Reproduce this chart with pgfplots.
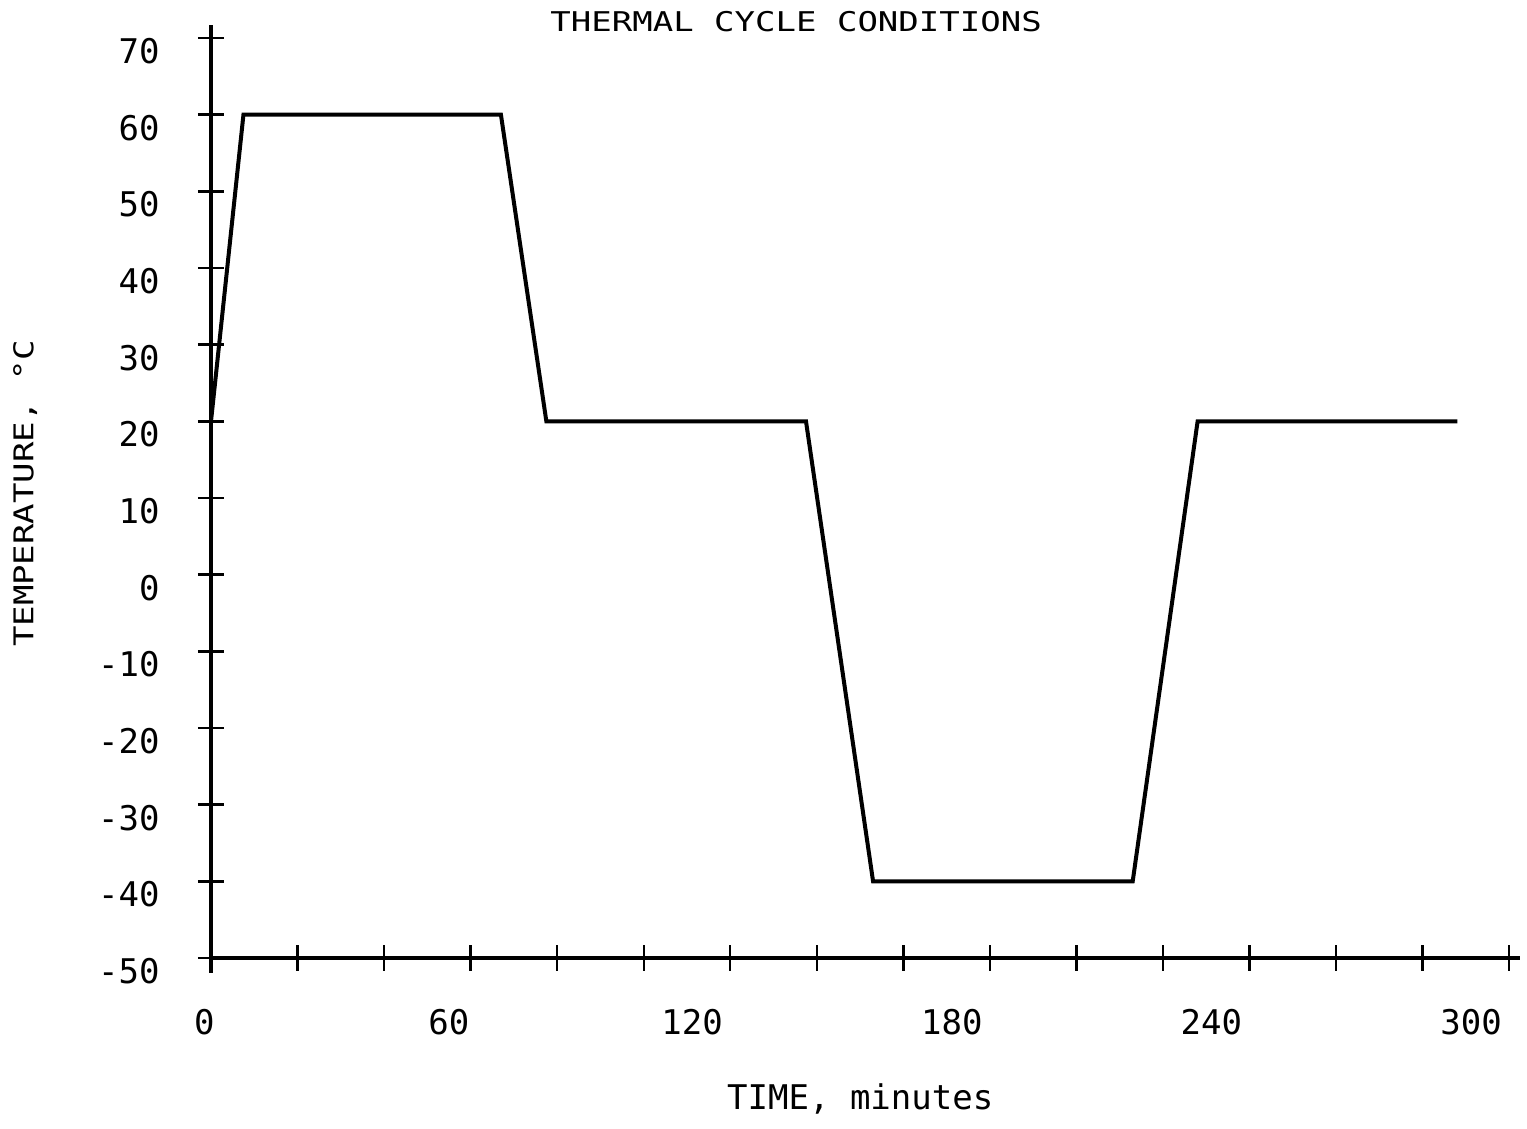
\documentclass[border=0pt]{standalone}
\usepackage{fontspec}
\setmainfont{DejaVu Sans Mono}
\usepackage{graphicx}
\usepackage{pgfplots}
\pgfplotsset{compat=1.18}
\begin{document}
\fontsize{17pt}{20pt}\selectfont
\begin{tikzpicture}
\useasboundingbox (-105.5pt,-85.5pt) rectangle (658pt,479pt);
\begin{axis}[
  at={(0pt,0pt)}, anchor=south west,
  scale only axis, width=654.5pt, height=466.5pt,
  xmin=0, xmax=302.5, ymin=-50, ymax=71.7,
  axis lines=left,
  axis line style={-, line width=1.7pt, black},
  tick align=center,
  major tick length=13pt, minor tick length=13pt,
  every tick/.style={line width=1.2pt, black},
  every minor tick/.style={line width=1.2pt, black},
  xtick={0,60,...,300},
  minor xtick={20,40,80,100,140,160,200,220,260,280},
  xticklabels={{0\kern-5.5pt},{60\kern-3pt},120,180,240,300},
  xticklabel style={anchor=north east, inner sep=0pt, xshift=-3.5pt, yshift=-19pt},
  ytick={-50,-40,...,70},
  yticklabels={-50,-40,-30,-20,-10,0,10,20,30,40,50,60,70},
  yticklabel style={anchor=north east, inner sep=0pt, xshift=-19pt, yshift=0pt},
  title={\scalebox{1}[0.8]{THERMAL CYCLE CONDITIONS}},
  every axis title/.style={at={(axis description cs:0.447,1.004)}, anchor=center, inner sep=0pt},
  xlabel={TIME, minutes},
  every axis x label/.style={at={(axis description cs:0.496,-0.151)}, anchor=center, inner sep=0pt},
  ylabel={\scalebox{1}[0.8]{TEMPERATURE, °C}},
  every axis y label/.style={at={(axis description cs:-0.142,0.498)}, anchor=center, rotate=90, inner sep=0pt},
  clip=false,
]
\addplot[black, line width=2pt] coordinates {
  (0,20) (7.5,60) (67,60) (77.5,20) (137.5,20) (153,-40) (213,-40) (228,20) (288,20)
};
\draw[line width=1.7pt, black] (axis cs:0,-50) -- (axis cs:0,-52);
\end{axis}
\end{tikzpicture}
\end{document}
